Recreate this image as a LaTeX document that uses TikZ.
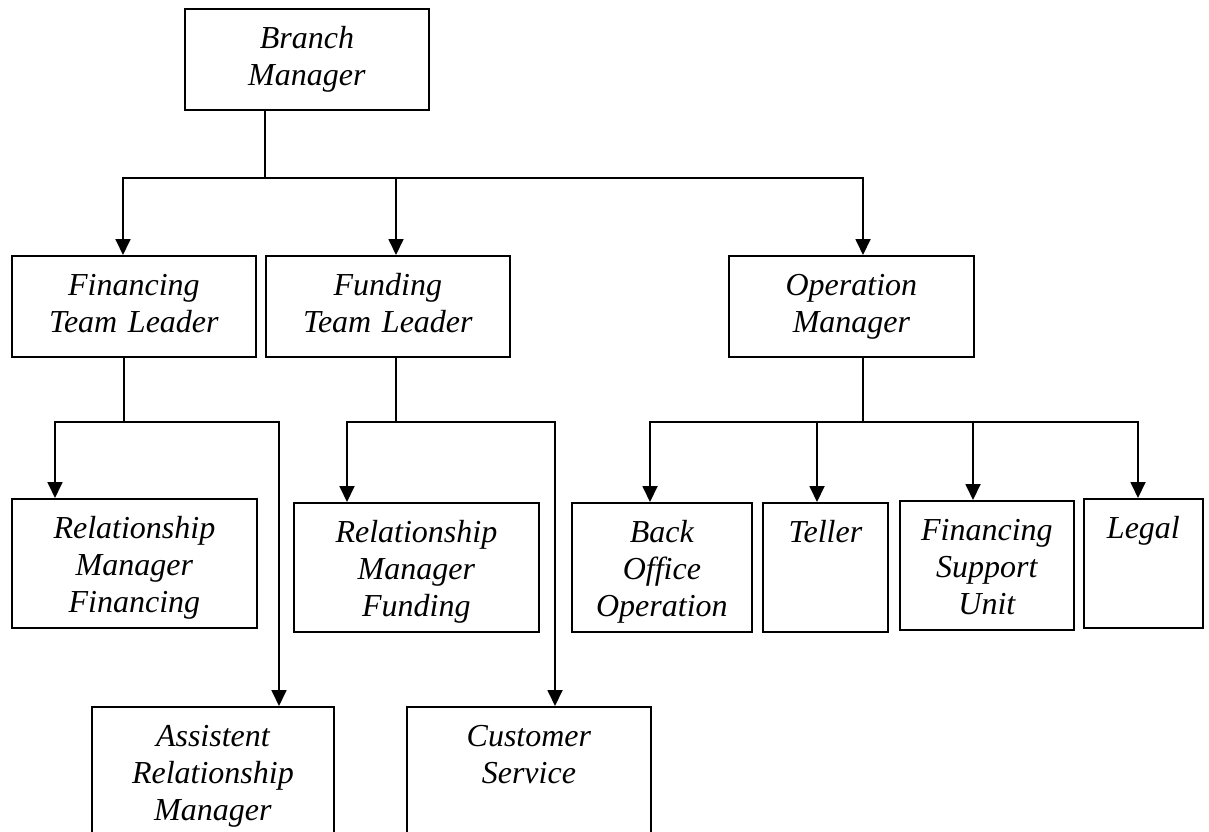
\documentclass[tikz,border=0pt]{standalone}
\usepackage{fontspec}
\setmainfont{Liberation Serif}
\usetikzlibrary{arrows.meta}

\begin{document}
\begin{tikzpicture}[x=1pt,y=-1pt,
    orgbox/.style={draw,line width=1.8pt,anchor=north west,inner sep=0pt,align=center,
        text height=40pt,font=\itshape\fontsize{32}{37}\selectfont},
    link/.style={line width=1.8pt},
    drop/.style={line width=1.8pt,-{Triangle[length=16pt,width=15pt]}}]
    \useasboundingbox (0,0) rectangle (1209,831);
    \clip (0,0) rectangle (1209,831);

    % top
    \node[orgbox,text width=244pt,text depth=61pt] (bm) at (184,8) {Branch\\Manager};

    % team leaders
    \node[orgbox,text width=244pt,text depth=61pt] (ftl) at (11,255) {Financing\\Team Leader};
    \node[orgbox,text width=244pt,text depth=61pt] (fdl) at (265,255) {Funding\\Team Leader};
    \node[orgbox,text width=245pt,text depth=61pt] (om) at (728,255) {Operation\\Manager};

    % staff
    \node[orgbox,text width=245pt,text depth=89pt] (rmf) at (11,498) {Relationship\\Manager\\Financing};
    \node[orgbox,text width=245pt,text depth=89pt] (rmfd) at (293,502) {Relationship\\Manager\\Funding};
    \node[orgbox,text width=242pt,text depth=100pt] (arm) at (91,706) {Assistent\\Relationship\\Manager};
    \node[orgbox,text width=244pt,text depth=100pt] (cs) at (406,706) {Customer\\Service};
    \node[orgbox,text width=180pt,text depth=89pt] (boo) at (571,502) {Back\\Office\\Operation};
    \node[orgbox,text width=125pt,text depth=89pt] (tel) at (762,502) {Teller};
    \node[orgbox,text width=174pt,text depth=89pt] (fsu) at (899,500) {Financing\\Support\\Unit};
    \node[orgbox,text width=119pt,text depth=89pt] (leg) at (1083,498) {Legal};

    % branch manager bus
    \coordinate (t0) at (265,178);
    \coordinate (t1) at (123,178);
    \coordinate (t2) at (396,178);
    \coordinate (t3) at (863,178);
    \draw[link] (bm.south -| t0) -- (t0);
    \draw[drop] (t0) -| (t1 |- ftl.north);
    \draw[drop] (t0) -| (t2 |- fdl.north);
    \draw[drop] (t0) -| (t3 |- om.north);

    % financing bus
    \coordinate (f0) at (124,422);
    \coordinate (f1) at (55,422);
    \coordinate (f2) at (279,422);
    \draw[link] (ftl.south -| f0) -- (f0);
    \draw[drop] (f0) -| (f1 |- rmf.north);
    \draw[drop] (f0) -| (f2 |- arm.north);

    % funding bus
    \coordinate (g0) at (396,422);
    \coordinate (g1) at (347,422);
    \coordinate (g2) at (555,422);
    \draw[link] (fdl.south -| g0) -- (g0);
    \draw[drop] (g0) -| (g1 |- rmfd.north);
    \draw[drop] (g0) -| (g2 |- cs.north);

    % operation bus
    \coordinate (o0) at (863,422);
    \coordinate (o1) at (650,422);
    \coordinate (o2) at (817,422);
    \coordinate (o3) at (973,422);
    \coordinate (o4) at (1138,422);
    \draw[link] (om.south -| o0) -- (o0);
    \draw[drop] (o0) -| (o1 |- boo.north);
    \draw[drop] (o0) -| (o2 |- tel.north);
    \draw[drop] (o0) -| (o3 |- fsu.north);
    \draw[drop] (o0) -| (o4 |- leg.north);

\end{tikzpicture}
\end{document}
